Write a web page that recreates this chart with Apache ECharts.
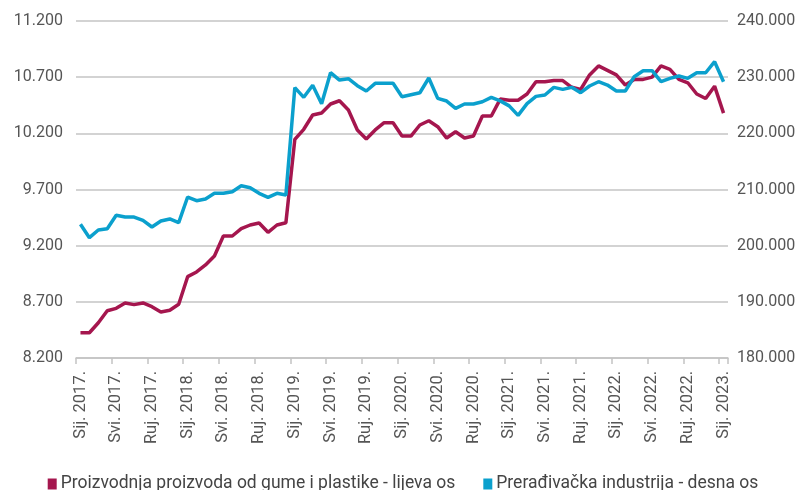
<!DOCTYPE html>
<html><head><meta charset="utf-8">
<script src="https://cdn.jsdelivr.net/npm/echarts@6/dist/echarts.min.js"></script>
<style>html,body{margin:0;padding:0;background:#fff}#c{width:806px;height:490px}</style>
</head><body><div id="c"></div>
<script>
const months = ['Sij.','Velj.','Ožu.','Tra.','Svi.','Lip.','Srp.','Kol.','Ruj.','Lis.','Stu.','Pro.'];
const categories = [];
for (let y = 2017; y <= 2023; y++) for (let m = 0; m < 12; m++) { if (y === 2023 && m > 0) break; categories.push(months[m] + ' ' + y + '.'); }

const seriesNames = ['Proizvodnja proizvoda od gume i plastike - lijeva os', 'Prerađivačka industrija - desna os'];

const rubberPlastics = [
  8425, 8425, 8514, 8621, 8642, 8690, 8675, 8690, 8657, 8610, 8625, 8678,
  8924, 8966, 9028, 9108, 9286, 9286, 9351, 9384, 9402, 9319, 9384, 9404,
  10146, 10236, 10363, 10381, 10461, 10490, 10408, 10230, 10149, 10230, 10295, 10295,
  10176, 10176, 10274, 10312, 10259, 10158, 10214, 10158, 10176, 10354, 10354, 10505,
  10495, 10495, 10550, 10660, 10660, 10670, 10670, 10610, 10590, 10720, 10800, 10760,
  10720, 10630, 10680, 10680, 10700, 10800, 10770, 10680, 10650, 10550, 10510, 10620,
  10380
];

const manufacturing = [
  203800, 201420, 202790, 203020, 205400, 205100, 205100, 204510, 203320, 204390, 204750, 204090,
  208660, 208000, 208310, 209320, 209320, 209610, 210680, 210320, 209320, 208610, 209320, 209020,
  228150, 226410, 228550, 225280, 230790, 229490, 229720, 228480, 227530, 228900, 228900, 228900,
  226520, 226880, 227230, 229850, 226230, 225750, 224450, 225220, 225220, 225630, 226410, 225780,
  224890, 223200, 225280, 226580, 226820, 228190, 227830, 228190, 227230, 228430, 229190, 228600,
  227530, 227530, 230080, 231150, 231150, 229190, 229790, 230200, 229790, 230790, 230790, 232750,
  229190
];

const leftTicks = { min: 8200, max: 11200, interval: 500 };
const rightTicks = { min: 180000, max: 240000, interval: 10000 };

const fmt = v => Math.round(v).toString().replace(/\B(?=(\d{3})+(?!\d))/g, '.');
const txt = '#555555';
const font = 'Roboto, "Liberation Sans", sans-serif';

const chart = echarts.init(document.getElementById('c'), null, { renderer: 'canvas' });
chart.setOption({
  animation: false,
  color: ['#a5164e', '#0ba0cd'],
  grid: { left: 76, right: 78, top: 21, bottom: 132 },
  legend: {
    top: 470, left: 'center', itemWidth: 9, itemHeight: 11, itemGap: 28,
    icon: 'rect',
    textStyle: { color: '#444', fontSize: 17.5, fontFamily: font, padding: [0, 0, 0, -1] },
    data: seriesNames
  },
  xAxis: {
    type: 'category', data: categories, boundaryGap: true,
    axisLine: { show: true, lineStyle: { color: '#c4c4c4', width: 1.5 } },
    axisTick: { show: true, interval: 3, length: 6, lineStyle: { color: '#c4c4c4', width: 1.5 } },
    axisLabel: { interval: 3, rotate: 90, color: txt, fontSize: 16.5, fontFamily: font, margin: 13 }
  },
  yAxis: [
    { type: 'value', min: leftTicks.min, max: leftTicks.max, interval: leftTicks.interval, position: 'left',
      axisLine: { show: false }, axisTick: { show: false },
      axisLabel: { color: txt, fontSize: 16, fontFamily: font, margin: 13, formatter: fmt },
      splitLine: { show: true, lineStyle: { color: '#c4c4c4', width: 1.5 } } },
    { type: 'value', min: rightTicks.min, max: rightTicks.max, interval: rightTicks.interval, position: 'right',
      axisLine: { show: false }, axisTick: { show: false },
      axisLabel: { color: txt, fontSize: 16, fontFamily: font, margin: 9, formatter: fmt },
      splitLine: { show: false } }
  ],
  series: [
    { name: seriesNames[0], type: 'line', yAxisIndex: 0, data: rubberPlastics, symbol: 'none', lineStyle: { width: 3.5 } },
    { name: seriesNames[1], type: 'line', yAxisIndex: 1, data: manufacturing, symbol: 'none', lineStyle: { width: 3.5 } }
  ]
});
</script></body></html>
